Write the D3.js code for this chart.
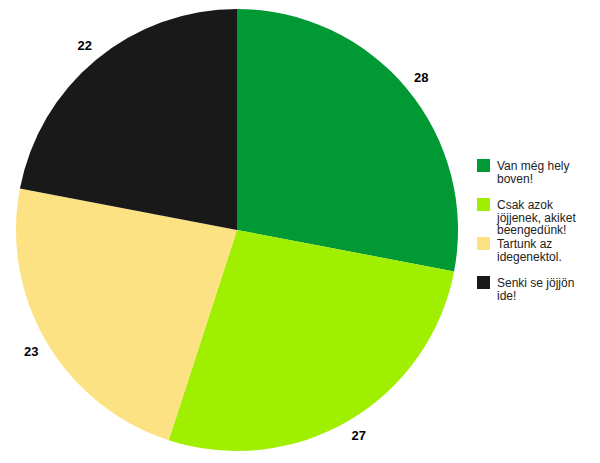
<!DOCTYPE html>
<html>
<head>
<meta charset="utf-8">
<script src="https://cdn.jsdelivr.net/npm/d3@7"></script>
<style>
  body { margin: 0; background: #fff; }
  text { font-family: Arial, "Liberation Sans", sans-serif; }
</style>
</head>
<body>
<script>
const categories = [
  ["Van még hely", "boven!"],
  ["Csak azok", "jöjjenek, akiket", "beengedünk!"],
  ["Tartunk az", "idegenektol."],
  ["Senki se jöjjön", "ide!"]
];
const values = [28, 27, 23, 22];
const colors = ["#009933", "#a0ee00", "#fde283", "#191919"];

const width = 600;
const height = 463;
const cx = 237, cy = 230, radius = 221;

const svg = d3.select("body").append("svg")
  .attr("width", width)
  .attr("height", height);

const pie = d3.pie().sort(null).value((d) => d);
const arcs = pie(values);

const arc = d3.arc().innerRadius(0).outerRadius(radius);
const labelArc = d3.arc().innerRadius(239).outerRadius(239);

const g = svg.append("g").attr("transform", `translate(${cx},${cy})`);

g.selectAll("path")
  .data(arcs)
  .enter()
  .append("path")
  .attr("d", arc)
  .attr("fill", (d, i) => colors[i]);

g.selectAll("text.lbl")
  .data(arcs)
  .enter()
  .append("text")
  .attr("class", "lbl")
  .attr("transform", (d) => `translate(${labelArc.centroid(d)})`)
  .attr("text-anchor", "middle")
  .attr("dy", "0.3em")
  .style("font-size", "13px")
  .style("font-weight", "bold")
  .text((d) => d.data);

// legend
const legend = svg.append("g").attr("transform", "translate(477,159)");
const item = legend.selectAll("g")
  .data(categories)
  .enter()
  .append("g")
  .attr("transform", (d, i) => `translate(0,${i * 39})`);

item.append("rect")
  .attr("width", 13)
  .attr("height", 13)
  .attr("fill", (d, i) => colors[i]);

item.append("text")
  .attr("x", 20)
  .attr("y", 11)
  .style("font-size", "12px")
  .style("fill", "#222")
  .selectAll("tspan")
  .data((d) => d)
  .enter()
  .append("tspan")
  .attr("x", 20)
  .attr("dy", (d, i) => (i === 0 ? 0 : 12.5))
  .text((d) => d);
</script>
</body>
</html>
